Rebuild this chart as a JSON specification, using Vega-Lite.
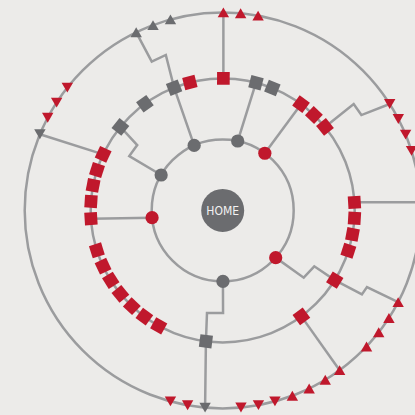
{
  "$schema": "https://vega.github.io/schema/vega-lite/v6.json",
  "width": 386,
  "height": 386,
  "autosize": {"type": "none"},
  "padding": {"left": 29.7, "top": 17.4, "right": 0, "bottom": 11.6},
  "background": "#ecebe9",
  "config": {"view": {"stroke": null}},
  "datasets": {
    "rings": [{"r": 71}, {"r": 132}, {"r": 198}],
    "home": [{"r": 21.5, "label": "HOME"}],
    "nodes": [
      {"angle": 336.3, "r": 71, "kind": "hub", "status": "normal"},
      {"angle": 12.2, "r": 71, "kind": "hub", "status": "normal"},
      {"angle": 36.4, "r": 71, "kind": "hub", "status": "flagged"},
      {"angle": 131.7, "r": 71, "kind": "hub", "status": "flagged"},
      {"angle": 179.8, "r": 71, "kind": "hub", "status": "normal"},
      {"angle": 264.1, "r": 71, "kind": "hub", "status": "flagged"},
      {"angle": 299.9, "r": 71, "kind": "hub", "status": "normal"},
      {"angle": 0.3, "r": 132, "kind": "page", "status": "flagged"},
      {"angle": 345.6, "r": 132, "kind": "page", "status": "flagged"},
      {"angle": 338.4, "r": 132, "kind": "page", "status": "normal"},
      {"angle": 323.9, "r": 132, "kind": "page", "status": "normal"},
      {"angle": 309.2, "r": 132, "kind": "page", "status": "normal"},
      {"angle": 295.1, "r": 132, "kind": "page", "status": "flagged"},
      {"angle": 287.8, "r": 132, "kind": "page", "status": "flagged"},
      {"angle": 280.9, "r": 132, "kind": "page", "status": "flagged"},
      {"angle": 273.9, "r": 132, "kind": "page", "status": "flagged"},
      {"angle": 266.4, "r": 132, "kind": "page", "status": "flagged"},
      {"angle": 252.4, "r": 132, "kind": "page", "status": "flagged"},
      {"angle": 245.0, "r": 132, "kind": "page", "status": "flagged"},
      {"angle": 238.0, "r": 132, "kind": "page", "status": "flagged"},
      {"angle": 230.8, "r": 132, "kind": "page", "status": "flagged"},
      {"angle": 223.5, "r": 132, "kind": "page", "status": "flagged"},
      {"angle": 216.4, "r": 132, "kind": "page", "status": "flagged"},
      {"angle": 209.0, "r": 132, "kind": "page", "status": "flagged"},
      {"angle": 187.3, "r": 132, "kind": "page", "status": "normal"},
      {"angle": 143.4, "r": 132, "kind": "page", "status": "flagged"},
      {"angle": 121.9, "r": 132, "kind": "page", "status": "flagged"},
      {"angle": 107.8, "r": 132, "kind": "page", "status": "flagged"},
      {"angle": 100.5, "r": 132, "kind": "page", "status": "flagged"},
      {"angle": 93.4, "r": 132, "kind": "page", "status": "flagged"},
      {"angle": 86.5, "r": 132, "kind": "page", "status": "flagged"},
      {"angle": 50.8, "r": 132, "kind": "page", "status": "flagged"},
      {"angle": 43.7, "r": 132, "kind": "page", "status": "flagged"},
      {"angle": 36.4, "r": 132, "kind": "page", "status": "flagged"},
      {"angle": 14.6, "r": 132, "kind": "page", "status": "normal"},
      {"angle": 22.1, "r": 132, "kind": "page", "status": "normal"},
      {"angle": 0.2, "r": 198, "kind": "up", "status": "flagged"},
      {"angle": 5.2, "r": 198, "kind": "up", "status": "flagged"},
      {"angle": 10.3, "r": 198, "kind": "up", "status": "flagged"},
      {"angle": 334.1, "r": 198, "kind": "up", "status": "normal"},
      {"angle": 339.4, "r": 198, "kind": "up", "status": "normal"},
      {"angle": 344.7, "r": 198, "kind": "up", "status": "normal"},
      {"angle": 308.3, "r": 198, "kind": "down", "status": "flagged"},
      {"angle": 303.0, "r": 198, "kind": "down", "status": "flagged"},
      {"angle": 297.9, "r": 198, "kind": "down", "status": "flagged"},
      {"angle": 292.6, "r": 198, "kind": "down", "status": "normal"},
      {"angle": 57.5, "r": 198, "kind": "down", "status": "flagged"},
      {"angle": 62.5, "r": 198, "kind": "down", "status": "flagged"},
      {"angle": 67.5, "r": 198, "kind": "down", "status": "flagged"},
      {"angle": 72.5, "r": 198, "kind": "down", "status": "flagged"},
      {"angle": 117.6, "r": 198, "kind": "up", "status": "flagged"},
      {"angle": 122.9, "r": 198, "kind": "up", "status": "flagged"},
      {"angle": 128.0, "r": 198, "kind": "up", "status": "flagged"},
      {"angle": 133.4, "r": 198, "kind": "up", "status": "flagged"},
      {"angle": 143.8, "r": 198, "kind": "up", "status": "flagged"},
      {"angle": 148.8, "r": 198, "kind": "up", "status": "flagged"},
      {"angle": 154.1, "r": 198, "kind": "up", "status": "flagged"},
      {"angle": 159.4, "r": 198, "kind": "up", "status": "flagged"},
      {"angle": 164.7, "r": 198, "kind": "down", "status": "flagged"},
      {"angle": 169.6, "r": 198, "kind": "down", "status": "flagged"},
      {"angle": 174.7, "r": 198, "kind": "down", "status": "flagged"},
      {"angle": 185.1, "r": 198, "kind": "down", "status": "normal"},
      {"angle": 190.2, "r": 198, "kind": "down", "status": "flagged"},
      {"angle": 195.3, "r": 198, "kind": "down", "status": "flagged"}
    ],
    "links": [
      {"link": 1, "step": 0, "angle": 336.3, "r": 71},
      {"link": 1, "step": 1, "angle": 338.4, "r": 132},
      {"link": 1, "step": 2, "angle": 339.9, "r": 165.5},
      {"link": 1, "step": 3, "angle": 334.5, "r": 164.8},
      {"link": 1, "step": 4, "angle": 334.1, "r": 198},
      {"link": 2, "step": 0, "angle": 299.9, "r": 71},
      {"link": 2, "step": 1, "angle": 300.2, "r": 108.1},
      {"link": 2, "step": 2, "angle": 307.4, "r": 107.6},
      {"link": 2, "step": 3, "angle": 309.2, "r": 132},
      {"link": 3, "step": 0, "angle": 292.6, "r": 198},
      {"link": 3, "step": 1, "angle": 295.1, "r": 132},
      {"link": 4, "step": 0, "angle": 264.1, "r": 71},
      {"link": 4, "step": 1, "angle": 266.4, "r": 132},
      {"link": 5, "step": 0, "angle": 12.2, "r": 71},
      {"link": 5, "step": 1, "angle": 14.6, "r": 132},
      {"link": 6, "step": 0, "angle": 36.4, "r": 71},
      {"link": 6, "step": 1, "angle": 36.4, "r": 132},
      {"link": 7, "step": 0, "angle": 0.3, "r": 132},
      {"link": 7, "step": 1, "angle": 0.2, "r": 198},
      {"link": 8, "step": 0, "angle": 50.8, "r": 132},
      {"link": 8, "step": 1, "angle": 50.9, "r": 168.8},
      {"link": 8, "step": 2, "angle": 55.5, "r": 168.3},
      {"link": 8, "step": 3, "angle": 57.5, "r": 198},
      {"link": 9, "step": 0, "angle": 86.5, "r": 132},
      {"link": 9, "step": 1, "angle": 87.6, "r": 198},
      {"link": 10, "step": 0, "angle": 131.7, "r": 71},
      {"link": 10, "step": 1, "angle": 129.7, "r": 105.3},
      {"link": 10, "step": 2, "angle": 121.4, "r": 107.3},
      {"link": 10, "step": 3, "angle": 121.9, "r": 132},
      {"link": 10, "step": 4, "angle": 121.1, "r": 162.6},
      {"link": 10, "step": 5, "angle": 118.0, "r": 163.4},
      {"link": 10, "step": 6, "angle": 117.6, "r": 198},
      {"link": 11, "step": 0, "angle": 143.4, "r": 132},
      {"link": 11, "step": 1, "angle": 143.8, "r": 198},
      {"link": 12, "step": 0, "angle": 179.8, "r": 71},
      {"link": 12, "step": 1, "angle": 179.8, "r": 102.6},
      {"link": 12, "step": 2, "angle": 188.7, "r": 103.8},
      {"link": 12, "step": 3, "angle": 187.3, "r": 132},
      {"link": 12, "step": 4, "angle": 185.1, "r": 198}
    ]
  },
  "layer": [
    {
      "data": {"name": "rings"},
      "mark": {"type": "arc", "theta": 0, "theta2": 6.2832, "filled": false, "fill": null, "stroke": "#9b9c9e", "strokeWidth": 2.5},
      "encoding": {
        "radius": {"field": "r", "type": "quantitative", "stack": null, "scale": {"type": "linear", "domain": [0, 193], "range": [0, 193], "zero": true, "nice": false}}
      }
    },
    {
      "data": {"name": "links"},
      "transform": [
        {"calculate": "datum.r * sin(datum.angle * PI / 180)", "as": "x"},
        {"calculate": "datum.r * cos(datum.angle * PI / 180)", "as": "y"}
      ],
      "mark": {"type": "line", "color": "#9b9c9e", "strokeWidth": 2.5, "strokeJoin": "miter"},
      "encoding": {
        "x": {"field": "x", "type": "quantitative", "scale": {"domain": [-193, 193], "nice": false, "zero": false}, "axis": null},
        "y": {"field": "y", "type": "quantitative", "scale": {"domain": [-193, 193], "nice": false, "zero": false}, "axis": null},
        "detail": {"field": "link", "type": "nominal"},
        "order": {"field": "step", "type": "quantitative"}
      }
    },
    {
      "data": {"name": "home"},
      "mark": {"type": "arc", "theta": 0, "theta2": 6.2832, "color": "#6b6c6f"},
      "encoding": {
        "radius": {"field": "r", "type": "quantitative", "stack": null, "scale": {"type": "linear", "domain": [0, 193], "range": [0, 193], "zero": true, "nice": false}}
      }
    },
    {
      "data": {"name": "home"},
      "mark": {"type": "text", "align": "center", "baseline": "middle", "font": "Liberation Sans Narrow, DejaVu Sans Condensed, sans-serif", "fontSize": 12, "color": "#f2f2f2", "dy": 1},
      "encoding": {
        "x": {"datum": 0, "type": "quantitative", "scale": {"domain": [-193, 193], "nice": false, "zero": false}, "axis": null},
        "y": {"datum": 0, "type": "quantitative", "scale": {"domain": [-193, 193], "nice": false, "zero": false}, "axis": null},
        "text": {"field": "label", "type": "nominal"}
      }
    },
    {
      "data": {"name": "nodes"},
      "transform": [
        {"filter": "datum.kind === 'hub'"},
        {"calculate": "datum.r * sin(datum.angle * PI / 180)", "as": "x"},
        {"calculate": "datum.r * cos(datum.angle * PI / 180)", "as": "y"}
      ],
      "mark": {"type": "point", "shape": "circle", "filled": true, "opacity": 1, "size": 175},
      "encoding": {
        "x": {"field": "x", "type": "quantitative", "scale": {"domain": [-193, 193], "nice": false, "zero": false}, "axis": null},
        "y": {"field": "y", "type": "quantitative", "scale": {"domain": [-193, 193], "nice": false, "zero": false}, "axis": null},
        "color": {"field": "status", "type": "nominal", "scale": {"domain": ["flagged", "normal"], "range": ["#c0182c", "#6b6c6f"]}, "legend": null}
      }
    },
    {
      "data": {"name": "nodes"},
      "transform": [
        {"filter": "datum.kind === 'page'"},
        {"calculate": "datum.r * sin(datum.angle * PI / 180)", "as": "x"},
        {"calculate": "datum.r * cos(datum.angle * PI / 180)", "as": "y"}
      ],
      "mark": {"type": "point", "shape": "square", "filled": true, "opacity": 1, "size": 160},
      "encoding": {
        "x": {"field": "x", "type": "quantitative", "scale": {"domain": [-193, 193], "nice": false, "zero": false}, "axis": null},
        "y": {"field": "y", "type": "quantitative", "scale": {"domain": [-193, 193], "nice": false, "zero": false}, "axis": null},
        "angle": {"field": "angle", "type": "quantitative", "scale": {"domain": [0, 360], "range": [0, 360]}},
        "color": {"field": "status", "type": "nominal", "scale": {"domain": ["flagged", "normal"], "range": ["#c0182c", "#6b6c6f"]}, "legend": null}
      }
    },
    {
      "data": {"name": "nodes"},
      "transform": [
        {"filter": "datum.kind === 'up' || datum.kind === 'down'"},
        {"calculate": "datum.r * sin(datum.angle * PI / 180)", "as": "x"},
        {"calculate": "datum.r * cos(datum.angle * PI / 180)", "as": "y"}
      ],
      "mark": {"type": "point", "filled": true, "opacity": 1, "size": 130},
      "encoding": {
        "x": {"field": "x", "type": "quantitative", "scale": {"domain": [-193, 193], "nice": false, "zero": false}, "axis": null},
        "y": {"field": "y", "type": "quantitative", "scale": {"domain": [-193, 193], "nice": false, "zero": false}, "axis": null},
        "shape": {"field": "kind", "type": "nominal", "scale": {"domain": ["up", "down"], "range": ["triangle-up", "triangle-down"]}, "legend": null},
        "color": {"field": "status", "type": "nominal", "scale": {"domain": ["flagged", "normal"], "range": ["#c0182c", "#6b6c6f"]}, "legend": null}
      }
    }
  ]
}
